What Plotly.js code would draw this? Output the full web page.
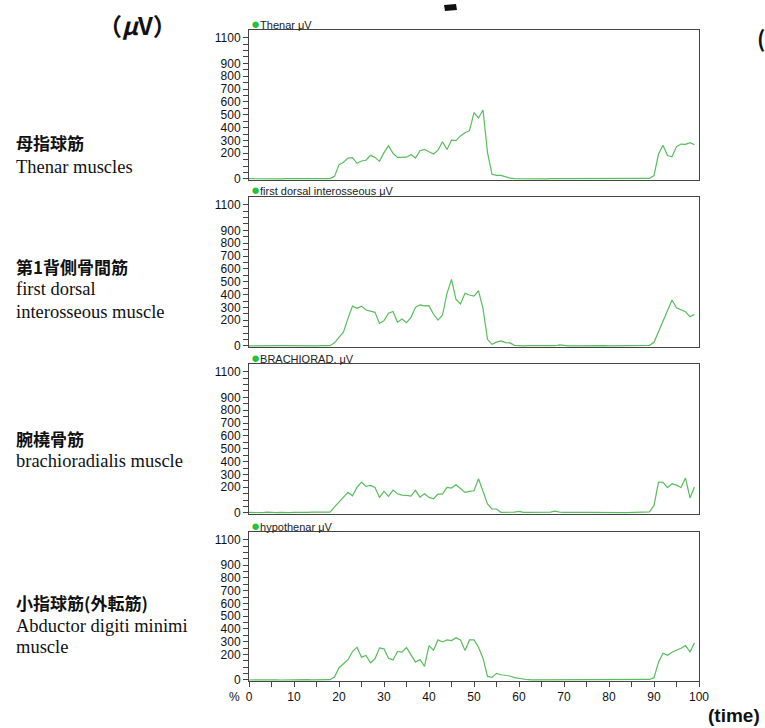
<!DOCTYPE html>
<html>
<head>
<meta charset="utf-8">
<script src="https://cdn.plot.ly/plotly-3.0.1.min.js"></script>
<style>html,body{margin:0;padding:0;background:#fff;}#chart{width:765px;height:728px;}</style>
</head>
<body>
<div id="chart"></div>
<script>
// ---- data (% of cycle, EMG amplitude in μV) ----
const timePct = Array.from({length: 100}, (_, i) => i);

const thenar = [2,1,2,2,1,2,2,1,2,2,1,1,2,1,1,2,1,2,
  3,20,110,130,163,166,122,140,146,184,168,137,205,259,200,168,168,170,191,163,220,230,212,194,225,290,230,303,298,335,360,376,516,475,537,205,36,28,28,15,6,2,
  1,2,1,1,2,1,1,2,2,1,1,2,1,1,2,2,1,1,2,1,1,2,1,1,2,1,1,2,1,
  4,26,194,262,183,173,252,272,270,283,267];

const firstDorsal = [1,2,2,1,3,2,1,2,2,1,3,2,1,2,2,1,2,1,2,
  25,65,110,215,310,293,310,280,273,262,176,197,255,268,184,210,181,223,301,320,312,314,247,202,241,410,519,363,327,410,397,389,431,290,52,13,30,39,26,24,5,
  1,1,2,1,1,2,1,1,2,8,2,1,1,2,1,1,2,1,1,2,1,1,2,1,1,2,1,1,2,
  5,29,111,181,272,358,298,285,267,228,246];

const brachiorad = [4,2,5,3,7,4,2,4,6,3,4,3,5,4,6,5,4,6,
  6,
  47,85,129,160,134,199,241,207,215,199,121,168,129,178,150,139,137,132,176,124,150,121,111,147,147,199,194,220,191,160,168,173,267,168,70,31,31,5,
  5,5,6,13,5,4,5,4,5,4,6,15,6,5,6,4,9,5,5,4,5,4,5,3,4,3,2,3,4,5,5,6,
  8,59,241,238,197,228,217,199,272,117,202];

const hypothenar = [0,1,0,1,1,0,1,0,1,1,0,2,1,3,1,0,1,1,2,
  23,96,127,159,223,257,179,192,135,166,252,244,171,156,223,218,254,197,140,161,106,270,233,314,298,314,309,332,314,231,314,314,257,171,28,20,52,41,38,31,18,12,3,
  2,1,1,1,2,1,1,1,1,2,1,1,1,1,2,1,1,1,1,1,2,1,1,1,1,1,2,4,
  18,140,210,194,218,231,249,270,221,291];

const seriesNames = ['Thenar', 'first dorsal interosseous', 'BRACHIORAD.', 'hypothenar'];
const seriesData = [thenar, firstDorsal, brachiorad, hypothenar];

const muscleJa = ['母指球筋', '第1背側骨間筋', '腕橈骨筋', '小指球筋(外転筋)'];
const muscleEn = [['Thenar muscles'], ['first dorsal', 'interosseous muscle'], ['brachioradialis muscle'], ['Abductor digiti minimi', 'muscle']];

const yTickVals = [0,50,100,150,200,250,300,350,400,450,500,550,600,650,700,750,800,850,900,950,1000,1050,1100];
const yTickText = ['0','','','','200','','300','','400','','500','','600','','700','','800','','900','','','','1100'];
const xTickVals = [0,10,20,30,40,50,60,70,80,90,100];
const xTickText = ['0','10','20','30','40','50','60','70','80','90','100'];

// ---- layout helpers ----
const W = 765, H = 728;
const px = x => x / W;
const py = y => 1 - y / H;
const plotLeft = 249, plotRight = 699;
const panels = [[30, 180], [197, 347], [364, 514], [532, 681]]; // top,bottom in px
const enY = [[167], [289], [461], [626]];
const enY2 = [null, 312, null, 647];
const jaY = [143, 266, 438, 602];

const lineColor = '#58bd5c';
const axisColor = '#444';
const tickFont = {family: 'Liberation Sans, Arial, sans-serif', size: 12, color: '#111'};

const data = [];
const layout = {
  width: W, height: H,
  margin: {l: 0, r: 0, t: 0, b: 0},
  paper_bgcolor: '#fff', plot_bgcolor: '#fff',
  showlegend: false,
  annotations: [],
  shapes: []
};

seriesData.forEach((vals, i) => {
  const n = i + 1;
  const xa = n === 1 ? 'x' : 'x' + n;
  const ya = n === 1 ? 'y' : 'y' + n;
  data.push({
    x: timePct, y: vals, xaxis: xa, yaxis: ya,
    type: 'scatter', mode: 'lines',
    line: {color: lineColor, width: 1.2},
    hoverinfo: 'skip'
  });
  const [top, bot] = panels[i];
  const isBottom = i === 3;
  layout[n === 1 ? 'xaxis' : 'xaxis' + n] = {
    domain: [px(plotLeft), px(plotRight)],
    anchor: ya, range: [0, 100],
    showline: true, mirror: true, linecolor: axisColor, linewidth: 1,
    showgrid: false, zeroline: false,
    ticks: isBottom ? 'outside' : '', ticklen: 5, tickcolor: axisColor,
    tickmode: 'array', tickvals: xTickVals, ticktext: xTickText,
    showticklabels: isBottom, tickfont: tickFont,
    minor: isBottom ? {tickmode: 'linear', tick0: 0, dtick: 5, ticks: 'outside', ticklen: 5, tickcolor: axisColor} : undefined
  };
  layout[n === 1 ? 'yaxis' : 'yaxis' + n] = {
    domain: [py(bot), py(top)],
    anchor: xa, range: [-8, 1160],
    showline: true, mirror: true, linecolor: axisColor, linewidth: 1,
    showgrid: false, zeroline: false,
    ticks: 'outside', ticklen: 5, tickcolor: axisColor,
    tickmode: 'array', tickvals: yTickVals, ticktext: yTickText,
    tickfont: tickFont
  };
  // panel title
  layout.annotations.push({
    xref: 'paper', yref: 'paper', x: px(249), y: py(top - 7),
    xanchor: 'left', yanchor: 'middle', showarrow: false,
    text: '<span style="color:#1fc43b;font-size:15px">●</span>' + seriesNames[i] + ' μV',
    font: {family: 'Liberation Sans, Arial, sans-serif', size: 11, color: '#222'}
  });
  // Japanese muscle name
  layout.annotations.push({
    xref: 'paper', yref: 'paper', x: px(14), y: py(jaY[i]),
    xanchor: 'left', yanchor: 'middle', showarrow: false,
    text: '<b>' + muscleJa[i] + '</b>',
    font: {family: 'Noto Sans CJK JP, sans-serif', size: 17, color: '#111'}
  });
  const enLines = [[enY[i][0], muscleEn[i][0]]];
  if (muscleEn[i][1]) enLines.push([enY2[i], muscleEn[i][1]]);
  enLines.forEach(([yy, t]) => {
    layout.annotations.push({
      xref: 'paper', yref: 'paper', x: px(14), y: py(yy),
      xanchor: 'left', yanchor: 'middle', showarrow: false,
      text: t,
      font: {family: 'Liberation Serif, Times New Roman, serif', size: 18.5, color: '#111'}
    });
  });
});

// other labels
layout.annotations.push(
  {xref: 'paper', yref: 'paper', x: px(242), y: py(697), xanchor: 'right', yanchor: 'middle', showarrow: false,
   text: '%', font: tickFont},
  {xref: 'paper', yref: 'paper', x: px(137), y: py(25), xanchor: 'center', yanchor: 'middle', showarrow: false,
   text: '<b>（<i>μ</i>V）</b>', font: {family: 'Noto Sans CJK JP, sans-serif', size: 24, color: '#111'}},
  {xref: 'paper', yref: 'paper', x: px(755), y: py(37), xanchor: 'left', yanchor: 'middle', showarrow: false,
   text: '<b>(</b>', font: {family: 'Noto Sans CJK JP, sans-serif', size: 22, color: '#111'}},
  {xref: 'paper', yref: 'paper', x: px(762), y: py(715), xanchor: 'right', yanchor: 'middle', showarrow: false,
   text: '<b>(time)</b>', font: {family: 'Liberation Sans, Arial, sans-serif', size: 19, color: '#111'}}
);
layout.shapes.push({
  type: 'path', xref: 'paper', yref: 'paper',
  path: 'M ' + px(444) + ' ' + py(5) + ' L ' + px(456) + ' ' + py(4) + ' L ' + px(457) + ' ' + py(10) + ' L ' + px(445) + ' ' + py(11) + ' Z',
  fillcolor: '#111', line: {width: 0}
});

Plotly.newPlot('chart', data, layout, {displayModeBar: false, staticPlot: true});
</script>
</body>
</html>
